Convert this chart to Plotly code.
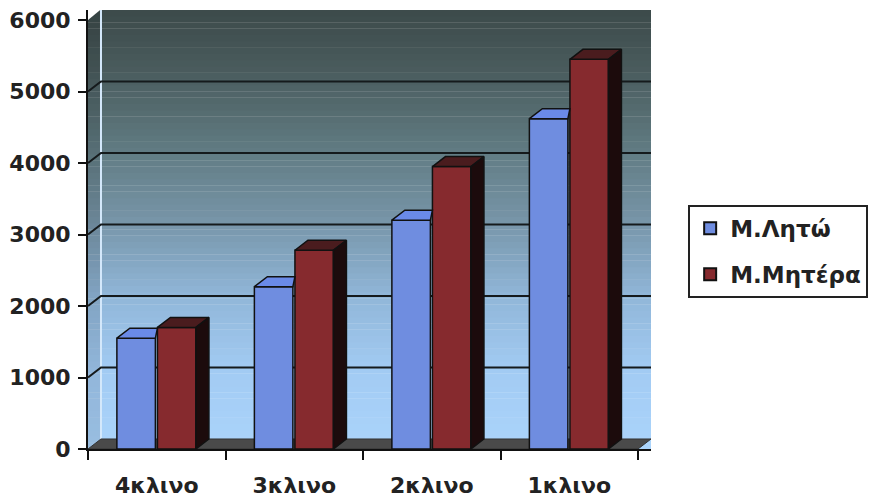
import plotly.graph_objects as go

categories = ["4κλινο", "3κλινο", "2κλινο", "1κλινο"]
series_names = ["Μ.Λητώ", "Μ.Μητέρα"]
leto = [1550, 2270, 3200, 4620]
mitera = [1700, 2780, 3950, 5450]
y_ticks = [0, 1000, 2000, 3000, 4000, 5000, 6000]

# styling / geometry of the pseudo-3D look
DX = 0.0945      # depth offset in category units
DY = 140         # depth offset in value units
BW = 0.28        # bar width
OFFS = [-0.29, 0.005]
X0, X1 = -0.5, 3.5945
Y1 = 6140
FONT = "'DejaVu Sans', sans-serif"
FRONT = ["#6f8de0", "#862a2e"]
TOP = ["#6a8ae8", "#4a1c1e"]
SIDE = ["#2a3a70", "#1c0b0c"]

xs = list(range(len(categories)))
fig = go.Figure()

shapes = []
# gradient back wall
stops = [(0.0, (0xab, 0xd4, 0xfb)), (0.18, (0xa2, 0xcb, 0xf3)), (0.35, (0x90, 0xb6, 0xd8)),
         (0.52, (0x77, 0x95, 0xa8)), (0.70, (0x5e, 0x78, 0x7e)), (0.86, (0x4a, 0x5c, 0x5e)),
         (1.0, (0x3c, 0x4a, 0x4a))]

def col(t):
    for (a, ca), (b, cb) in zip(stops[:-1], stops[1:]):
        if a <= t <= b:
            f = (t - a) / (b - a)
            c = [round(ca[i] + (cb[i] - ca[i]) * f) for i in range(3)]
            return "rgb(%d,%d,%d)" % tuple(c)
    return "rgb(60,74,74)"

N = 70
for i in range(N):
    ya = Y1 * i / N
    yb = Y1 * (i + 1) / N + 5
    shapes.append(dict(type="rect", xref="x", yref="y", x0=X0, x1=X1, y0=ya, y1=yb,
                       fillcolor=col((i + 0.5) / N), line=dict(width=0), layer="below"))
# side wall shading
shapes.append(dict(type="path", xref="x", yref="y", layer="below",
                   path=f"M {X0},0 L {X0},{y_ticks[-1]} L {X0+DX},{y_ticks[-1]+DY} L {X0+DX},{DY} Z",
                   fillcolor="rgba(0,0,0,0.10)", line=dict(width=0)))
shapes.append(dict(type="path", xref="x", yref="y", layer="below",
                   path=f"M {X0},{y_ticks[-1]} L {X0+DX},{Y1+10} L {X0},{Y1+10} Z",
                   fillcolor="white", line=dict(width=0)))
# light edge of back wall
shapes.append(dict(type="line", xref="x", yref="y", layer="below", x0=X0+DX, x1=X0+DX,
                   y0=DY, y1=Y1, line=dict(color="#d4e8fb", width=2)))
# gridlines on back + side wall
for v in y_ticks[1:-1]:
    shapes.append(dict(type="path", xref="x", yref="y", layer="below",
                       path=f"M {X0},{v} L {X0+DX},{v+DY} L {X1},{v+DY}",
                       line=dict(color="#151a1c", width=2)))
# floor
shapes.append(dict(type="path", xref="x", yref="y", layer="below",
                   path=f"M {X0},0 L {len(categories)-0.5},0 L {len(categories)-0.5+DX},{DY} L {X0+DX},{DY} Z",
                   fillcolor="#4a4a4a", line=dict(width=1, color="#333")))

# front faces
for s, (name, vals) in enumerate(zip(series_names, [leto, mitera])):
    fig.add_trace(go.Bar(x=xs, y=vals, width=BW, offset=OFFS[s], name=name,
                         marker=dict(color=FRONT[s], line=dict(color="#111", width=1.5)),
                         legendgroup=name))

# top and side faces
all_vals = [leto, mitera]
for s, vals in enumerate(all_vals):
    tx, ty, sx, sy = [], [], [], []
    for i, v in enumerate(vals):
        a = i + OFFS[s]
        b = a + BW
        if s == 0:
            # clipped by the taller neighbour on the right
            nb = i + OFFS[1]
            tx += [a, b, nb, a + DX, a, None]
            ty += [v, v, v + DY, v + DY, v, None]
        else:
            tx += [a, b, b + DX, a + DX, a, None]
            ty += [v, v, v + DY, v + DY, v, None]
            sx += [b, b + DX, b + DX, b, b, None]
            sy += [0, DY, v + DY, v, 0, None]
    fig.add_trace(go.Scatter(x=tx, y=ty, fill="toself", fillcolor=TOP[s], mode="lines",
                             line=dict(color="#111", width=1.5), showlegend=False, hoverinfo="skip"))
    if sx:
        fig.add_trace(go.Scatter(x=sx, y=sy, fill="toself", fillcolor=SIDE[s], mode="lines",
                                 line=dict(color="#111", width=1.5), showlegend=False, hoverinfo="skip"))

fig.update_layout(
    width=874, height=502,
    margin=dict(l=88, r=223, t=10, b=53, autoexpand=False),
    paper_bgcolor="white", plot_bgcolor="white",
    barmode="overlay",
    shapes=shapes,
    showlegend=True,
    legend=dict(x=1.066, y=0.556, xanchor="left", yanchor="top",
                bgcolor="white", bordercolor="#222", borderwidth=2,
                font=dict(family=FONT, size=23, color="#222", weight="bold"),
                tracegroupgap=13, itemsizing="constant"),
    xaxis=dict(range=[X0, X1], tickvals=xs, ticktext=categories,
               ticks="", showgrid=False, zeroline=False, showline=True, linecolor="#111",
               linewidth=2, ticklabelstandoff=16,
               tickfont=dict(family=FONT, size=22, color="#222", weight="bold"),
               minor=dict(tickvals=[x - 0.5 for x in xs] + [len(xs) - 0.5], ticks="outside",
                          ticklen=9, tickwidth=2, tickcolor="#111", showgrid=False)),
    yaxis=dict(range=[0, Y1], tickvals=y_ticks, ticks="outside", ticklen=8, tickwidth=2,
               tickcolor="#111", showgrid=False, zeroline=False, showline=True,
               linecolor="#111", linewidth=2, ticklabelstandoff=3,
               tickfont=dict(family=FONT, size=22, color="#222", weight="bold")),
)

fig.write_html("out.html")
